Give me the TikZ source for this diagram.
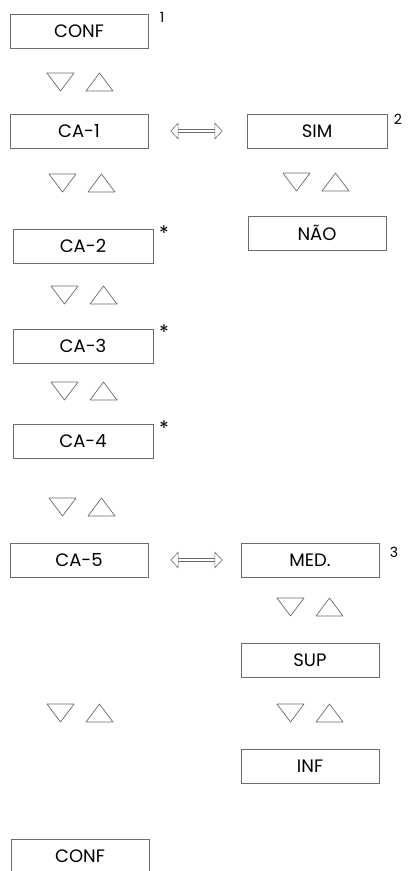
\documentclass[tikz,border=0pt]{standalone}
\usepackage{fontspec}
\setmainfont{Poppins}
\usetikzlibrary{arrows.meta}

\tikzset{
  menubox/.style={draw=gray!85!black, line width=0.8pt, minimum width=138pt,
    minimum height=34pt, inner sep=0pt, font=\fontsize{18}{18}\selectfont},
  note/.style={inner sep=0pt, font=\fontsize{14}{14}\selectfont},
  starnote/.style={note, font=\fontsize{20}{20}\selectfont},
  shuttle/.style={draw=gray!85!black, double, double distance=2.6pt, line width=0.6pt,
    {Triangle[open,length=8pt,width=17pt]}-{Triangle[open,length=8pt,width=17pt]}},
  tri/.style={draw=gray!85!black, line width=0.7pt, line join=round}
}

\begin{document}
\begin{tikzpicture}[x=1pt,y=-1pt]
  \useasboundingbox (0,0) rectangle (408,871);
  % left column of menus
  \node[menubox] (conf) at (79,31) {CONF};
  \node[menubox] (ca1) at (79,131) {CA-1};
  \node[menubox, minimum width=140pt] (ca2) at (83,246) {CA-2};
  \node[menubox, minimum width=140pt] (ca3) at (83,346) {CA-3};
  \node[menubox, minimum width=140pt] (ca4) at (83,441) {CA-4};
  \node[menubox] (ca5) at (79,560) {CA-5};
  \node[menubox] (confb) at (80,856) {CONF};
  % right column of menus
  \node[menubox, minimum width=140pt] (sim) at (317,131) {SIM};
  \node[menubox] (nao) at (317,233) {NÃO};
  \node[menubox] (med) at (310,560) {MED.};
  \node[menubox] (sup) at (310,660) {SUP};
  \node[menubox] (inf) at (310,766) {INF};
  % footnote marks
  \node[note] (one) at (162,17) {1};
  \node[note] (two) at (398,119) {2};
  \node[note] (three) at (394,552) {3};
  \foreach \y/\nm in {233/starb, 332/starc, 428/stard}
    \node[starnote] (\nm) at (164,\y) {*};
  % arrows between columns
  \draw[shuttle, shorten <=22pt, shorten >=24pt] (ca1) -- (sim);
  \draw[shuttle, shorten <=22pt, shorten >=18pt] (ca5) -- (med);
  % down / up keys
  \foreach \x/\y in {47/73, 49/174, 51/286, 51/382, 49/498, 47/704, 283/173, 277/598, 277/704}
  {
    \draw[tri] (\x,\y) -- ++(27,0) -- ++(-13.5,18) -- cycle;
    \draw[tri] (\x+39,\y+18) -- ++(27,0) -- ++(-13.5,-18) -- cycle;
  }
\end{tikzpicture}
\end{document}
